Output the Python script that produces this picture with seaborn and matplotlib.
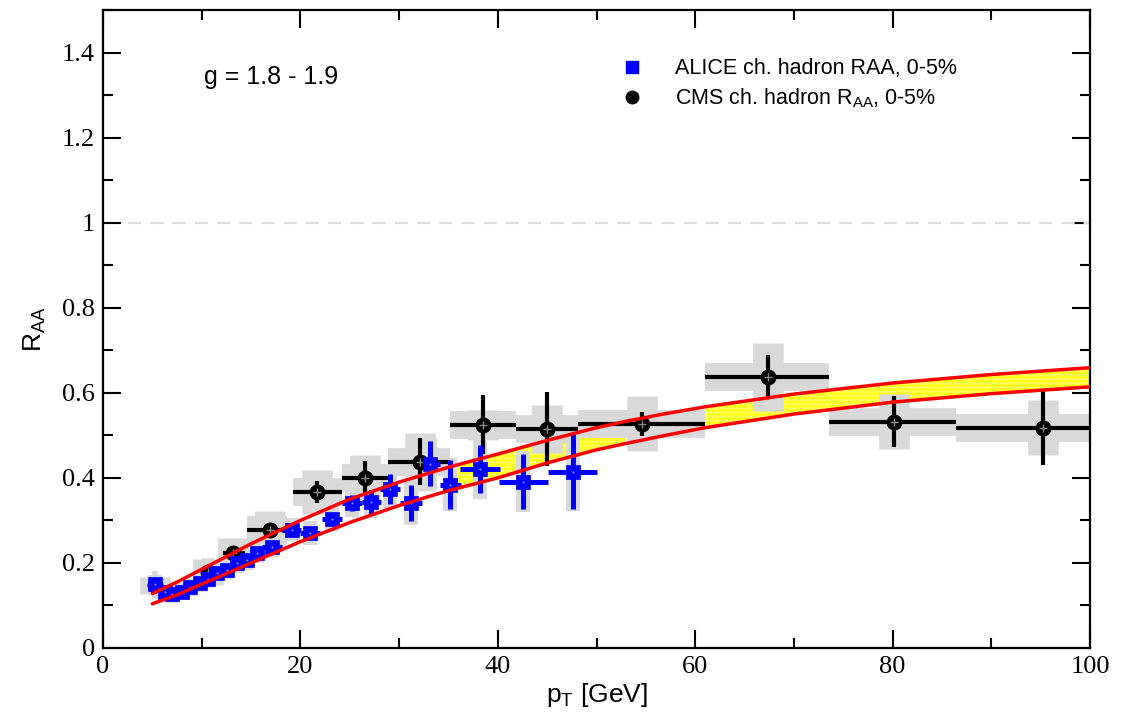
import numpy as np
import pandas as pd
import matplotlib
matplotlib.use("Agg")
import matplotlib.pyplot as plt
from matplotlib.lines import Line2D
from matplotlib.ticker import MultipleLocator
import seaborn as sns

# ---------------- data ----------------
# theory band (upper / lower red curves)
band_pt = [5, 7.5, 10, 15, 20, 25, 30, 35, 40, 45, 50, 53, 57, 61, 70, 80, 90, 100]
band_hi = [0.128, 0.155, 0.185, 0.245, 0.300, 0.350, 0.390, 0.425, 0.456, 0.488, 0.518,
           0.533, 0.551, 0.567, 0.597, 0.623, 0.643, 0.659]
band_lo = [0.104, 0.125, 0.150, 0.200, 0.250, 0.295, 0.335, 0.370, 0.400, 0.435, 0.466,
           0.481, 0.500, 0.518, 0.550, 0.578, 0.598, 0.614]
band_yellow = [0, 0, 0, 0, 0, 0, 0, 1, 1, 1, 1, 1, 0, 1, 1, 1, 1, 1]

# ALICE charged hadron RAA 0-5%
alice_pt = [5.25, 6.25, 7.0, 8.0, 8.8, 9.8, 10.6, 11.6, 12.6, 13.6, 14.6, 15.6, 17.1,
            19.1, 21.0, 23.2, 25.2, 27.2, 29.1, 31.2, 33.1, 35.2, 38.2, 42.6, 47.6]
alice_raa = [0.151, 0.132, 0.126, 0.132, 0.143, 0.153, 0.162, 0.176, 0.184, 0.200, 0.207,
             0.223, 0.238, 0.278, 0.270, 0.304, 0.341, 0.344, 0.374, 0.341, 0.433, 0.384,
             0.421, 0.391, 0.414]
alice_xerr = [0.25, 0.5, 0.5, 0.5, 0.5, 0.5, 0.5, 0.5, 0.5, 0.5, 0.5, 0.5, 1.0,
              1.0, 1.0, 1.0, 1.0, 1.0, 1.0, 1.1, 1.0, 1.1, 2.0, 2.5, 2.5]
alice_stat = [0.004, 0.004, 0.004, 0.004, 0.004, 0.004, 0.004, 0.004, 0.004, 0.004, 0.004,
              0.005, 0.006, 0.008, 0.010, 0.012, 0.018, 0.028, 0.035, 0.042, 0.053, 0.057,
              0.057, 0.065, 0.088]
alice_syst = [0.020, 0.020, 0.020, 0.020, 0.020, 0.021, 0.021, 0.022, 0.022, 0.023, 0.023,
              0.024, 0.025, 0.027, 0.028, 0.030, 0.033, 0.038, 0.045, 0.052, 0.060, 0.063,
              0.070, 0.072, 0.092]

# CMS charged hadron RAA 0-5%
cms_pt = [5.3, 10.6, 13.2, 16.9, 21.7, 26.5, 32.1, 38.5, 45.0, 54.6, 67.4, 80.1, 95.2]
cms_raa = [0.148, 0.179, 0.223, 0.278, 0.367, 0.400, 0.438, 0.525, 0.515, 0.527, 0.638,
           0.532, 0.518]
cms_bin_lo = [5.0, 10.0, 12.2, 14.6, 19.3, 24.2, 28.9, 35.2, 41.8, 48.1, 61.0, 73.6, 86.4]
cms_bin_hi = [5.6, 11.2, 14.4, 18.6, 24.2, 28.9, 35.2, 41.8, 48.1, 61.0, 73.6, 86.4, 104.0]
cms_stat = [0.005, 0.008, 0.010, 0.012, 0.026, 0.040, 0.055, 0.070, 0.088, 0.029, 0.052,
            0.060, 0.088]
cms_syst = [0.020, 0.030, 0.035, 0.045, 0.052, 0.054, 0.068, 0.035, 0.057, 0.065, 0.080,
            0.065, 0.064]

x_ticks = [0, 20, 40, 60, 80, 100]
y_ticks = [0, 0.2, 0.4, 0.6, 0.8, 1.0, 1.2, 1.4]
y_tick_labels = ["0", "0.2", "0.4", "0.6", "0.8", "1", "1.2", "1.4"]

# ---------------- style ----------------
sns.set_style("ticks")
plt.rcParams["font.family"] = ["Liberation Sans", "DejaVu Sans"]
plt.rcParams["mathtext.fontset"] = "custom"
plt.rcParams["mathtext.rm"] = "Liberation Sans"
plt.rcParams["mathtext.it"] = "Liberation Sans"
plt.rcParams["mathtext.default"] = "rm"
for key in ["text.color", "axes.labelcolor", "xtick.color", "ytick.color",
            "axes.edgecolor", "xtick.labelcolor", "ytick.labelcolor"]:
    plt.rcParams[key] = "black"

fig = plt.figure(figsize=(11.29, 7.12), dpi=100)
ax = fig.add_axes([103 / 1129, 64 / 712, 987 / 1129, 638 / 712])

band = pd.DataFrame({"pt": band_pt, "hi": band_hi, "lo": band_lo,
                     "yel": np.array(band_yellow, dtype=bool)})
alice = pd.DataFrame({"pt": alice_pt, "raa": alice_raa, "xerr": alice_xerr,
                      "stat": alice_stat, "syst": alice_syst})
cms = pd.DataFrame({"pt": cms_pt, "raa": cms_raa, "lo": cms_bin_lo, "hi": cms_bin_hi,
                    "stat": cms_stat, "syst": cms_syst})

grey = "#d9d9d9"

# yellow band
ax.fill_between(band["pt"], band["lo"], band["hi"], where=band["yel"],
                facecolor="#ffff1a", edgecolor="#ffffa0", hatch="....", linewidth=0,
                zorder=1)

# reference line at 1
ax.axhline(1.0, xmin=2.5 / 100, color="#dcdcdc", lw=1.6, ls=(0, (6, 4)), zorder=1)

# grey systematic crosses
cms_xerr = np.vstack([cms["pt"] - cms["lo"], cms["hi"] - cms["pt"]])
ax.errorbar(cms["pt"], cms["raa"], xerr=cms_xerr, fmt="none", ecolor=grey,
            elinewidth=20, capsize=0, zorder=2)
ax.errorbar(cms["pt"], cms["raa"], yerr=cms["syst"], fmt="none", ecolor=grey,
            elinewidth=22, capsize=0, zorder=2)
ax.errorbar(alice["pt"], alice["raa"], yerr=alice["syst"], fmt="none", ecolor=grey,
            elinewidth=10, capsize=0, zorder=2)

# statistical error bars
ax.errorbar(cms["pt"], cms["raa"], xerr=cms_xerr, yerr=cms["stat"], fmt="none",
            ecolor="black", elinewidth=3, capsize=0, zorder=3)
ax.errorbar(alice["pt"], alice["raa"], xerr=alice["xerr"], yerr=alice["stat"], fmt="none",
            ecolor="#0000ff", elinewidth=3.6, capsize=0, zorder=4)

# markers
sns.scatterplot(data=cms, x="pt", y="raa", marker="o", s=120, color="black",
                edgecolor="black", linewidth=0.5, zorder=5, ax=ax, legend=False)
sns.scatterplot(data=cms, x="pt", y="raa", marker="+", s=30, color="#888888",
                linewidth=1.0, zorder=6, ax=ax, legend=False)
sns.scatterplot(data=alice, x="pt", y="raa", marker="s", s=90, color="#0000ff",
                edgecolor="#0000ff", linewidth=0.5, zorder=6, ax=ax, legend=False)
sns.scatterplot(data=alice, x="pt", y="raa", marker=".", s=8, color="#9999ff",
                linewidth=0, zorder=7, ax=ax, legend=False)

# red curves
sns.lineplot(data=band, x="pt", y="hi", color="#ff0000", lw=2.5, sort=True,
             estimator=None, zorder=8, ax=ax)
sns.lineplot(data=band, x="pt", y="lo", color="#ff0000", lw=2.5, sort=True,
             estimator=None, zorder=8, ax=ax)

# axes
ax.set_xlim(0, 100)
ax.set_ylim(0, 1.5)
ax.set_xticks(x_ticks)
ax.set_yticks(y_ticks)
ax.set_yticklabels(y_tick_labels)
ax.xaxis.set_minor_locator(MultipleLocator(10))
ax.yaxis.set_minor_locator(MultipleLocator(0.1))
ax.tick_params(which="both", direction="in", top=True, right=True, width=1.5,
               color="black", labelcolor="black")
ax.tick_params(which="major", length=13)
ax.tick_params(which="minor", length=7)
for lab in ax.get_xticklabels() + ax.get_yticklabels():
    lab.set_fontfamily("Liberation Serif")
    lab.set_fontsize(19)
ax.tick_params(axis="x", pad=6)
ax.tick_params(axis="y", pad=6)
for sp in ax.spines.values():
    sp.set_linewidth(1.6)
    sp.set_color("black")
    sp.set_visible(True)

ax.set_xlabel(r"p$_{\mathregular{T}}$ [GeV]", fontsize=19, labelpad=2, color="black")
ax.set_ylabel(r"R$_{\mathregular{AA}}$", fontsize=19, labelpad=10, color="black")

ax.text(10.2, 1.343, "g = 1.8 - 1.9", fontsize=18, va="center", ha="left", color="black")

handles = [
    Line2D([], [], marker="s", color="#0000ff", ls="none", markersize=8),
    Line2D([], [], marker="o", color="black", ls="none", markersize=9),
]
labels = ["ALICE ch. hadron RAA, 0-5%", r"CMS ch. hadron R$_{\mathregular{AA}}$, 0-5%"]
leg = ax.legend(handles, labels, loc="upper left", bbox_to_anchor=(0.505, 0.955),
                frameon=False, fontsize=15.5, handletextpad=1.5, labelspacing=0.35,
                handlelength=1.0)
for t in leg.get_texts():
    t.set_color("black")

fig.savefig("out.png", dpi=100)
